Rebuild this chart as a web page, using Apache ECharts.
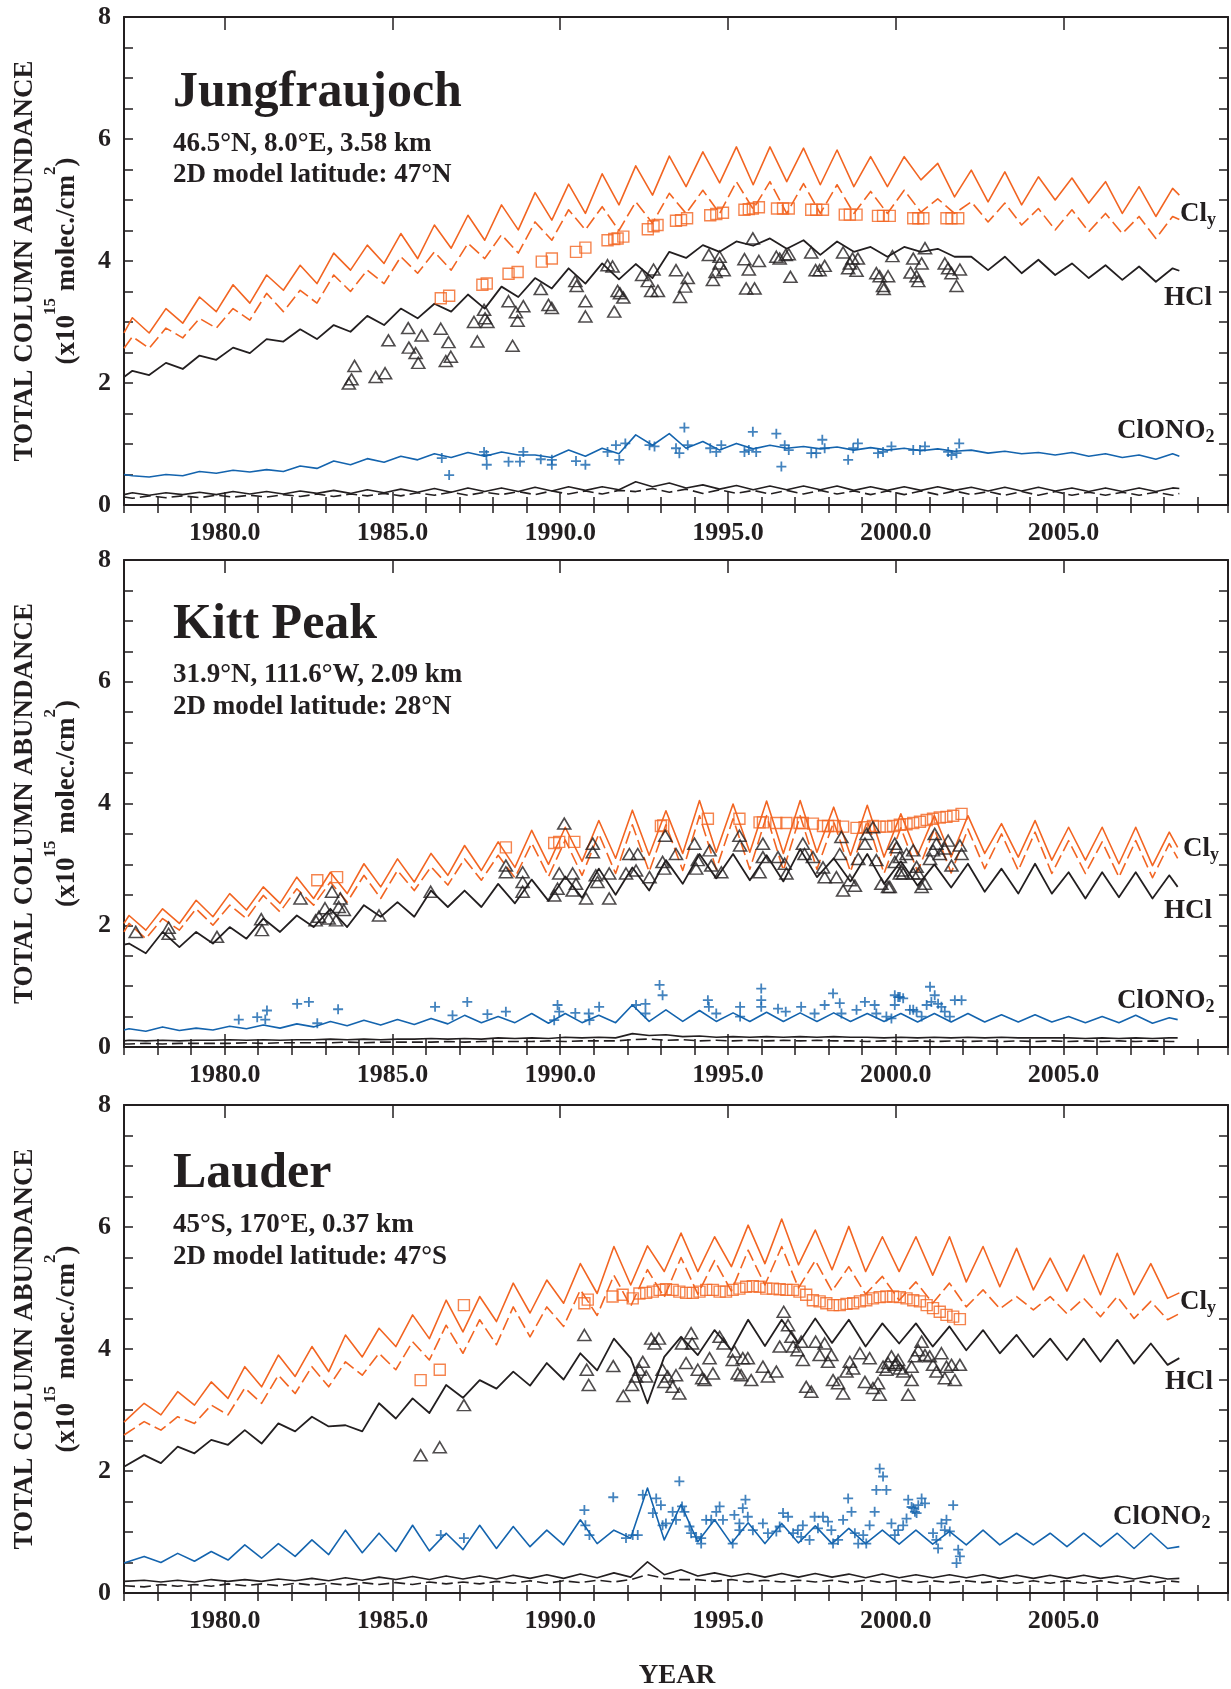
<!DOCTYPE html>
<html>
<head>
<meta charset="utf-8">
<script src="https://cdn.jsdelivr.net/npm/echarts@6/dist/echarts.min.js"></script>
<style>
  html, body { margin: 0; padding: 0; background: #ffffff; }
  #chart { width: 1231px; height: 1689px; }
</style>
</head>
<body>
<div id="chart"></div>
<script>
// ---------------------------------------------------------------------------
// Model curves are stored at their seasonal extremes: the first value is at
// 1977.0, then alternating maximum / minimum every half year, then the last
// model month.
// ---------------------------------------------------------------------------
function seasonalTimes(start, first, count, end) {
  const t = [start];
  for (let i = 0; i < count; i++) t.push(+(first + 0.5 * i).toFixed(2));
  t.push(end);
  return t;
}
const JF_T = seasonalTimes(1977.0, 1977.25, 63, 2008.45);
const KP_T = seasonalTimes(1977.0, 1977.15, 63, 2008.40);
const LA_T = seasonalTimes(1977.0, 1977.60, 62, 2008.45);

// ---- Jungfraujoch model (x10^15 molec./cm^2) ----
const JF_CLY = [2.82,
  3.07,2.82, 3.22,2.98, 3.41,3.17, 3.61,3.31, 3.77,3.52, 3.93,3.63, 4.13,3.85, 4.26,3.96, 4.45,4.04, 4.59,4.21,
  4.75,4.34, 4.92,4.51, 5.12,4.67, 5.26,4.78, 5.43,4.92, 5.56,5.08, 5.72,5.22, 5.79,5.28, 5.87,5.25, 5.87,5.30,
  5.85,5.25, 5.82,5.22, 5.71,5.22, 5.71,5.33, 5.60,5.05, 5.49,4.97, 5.46,4.92, 5.38,5.00, 5.36,4.95, 5.30,4.78,
  5.22,4.73,
  5.19, 5.08];
const JF_CLY_DASH = [2.57,
  2.76,2.57, 2.90,2.74, 3.06,2.90, 3.22,3.03, 3.47,3.17, 3.52,3.31, 3.77,3.50, 3.85,3.63, 4.07,3.80, 4.15,3.85,
  4.29,4.04, 4.43,4.13, 4.64,4.34, 4.84,4.51, 4.89,4.50, 4.97,4.62, 5.11,4.78, 5.16,4.78, 5.30,4.85, 5.30,4.78,
  5.27,4.78, 5.25,4.78, 5.14,4.78, 5.16,4.80, 5.02,4.78, 4.97,4.64, 4.95,4.59, 4.86,4.51, 4.84,4.48, 4.78,4.45,
  4.73,4.37,
  4.73, 4.68];
const JF_HCL = [2.10,
  2.20,2.13, 2.33,2.23, 2.45,2.38, 2.58,2.49, 2.72,2.68, 2.88,2.72, 2.95,2.84, 3.10,2.95, 3.22,3.06, 3.30,3.17,
  3.45,3.22, 3.58,3.41, 3.72,3.55, 3.88,3.63, 3.96,3.70, 3.95,3.72, 4.15,4.05, 4.26,4.15, 4.32,4.25, 4.37,4.20,
  4.34,4.10, 4.32,4.15, 4.23,4.07, 4.23,4.15, 4.20,4.07, 4.07,3.85, 4.07,3.80, 4.02,3.77, 3.96,3.72, 3.93,3.69,
  3.91,3.66,
  3.88, 3.84];
const JF_CLONO2 = [0.50,
  0.48,0.46, 0.50,0.48, 0.55,0.52, 0.57,0.54, 0.58,0.55, 0.64,0.60, 0.72,0.66, 0.76,0.70, 0.80,0.74, 0.84,0.78,
  0.86,0.80, 0.87,0.82, 0.82,0.78, 0.90,0.80, 0.93,0.84, 1.15,0.98, 1.17,0.93, 1.04,0.90, 1.01,0.92, 0.98,0.93,
  0.96,0.92, 0.95,0.90, 0.94,0.90, 0.93,0.89, 0.92,0.88, 0.90,0.85, 0.88,0.84, 0.86,0.82, 0.86,0.80, 0.84,0.78,
  0.82,0.75,
  0.84, 0.80];
const JF_LOW = [0.17,
  0.20,0.16, 0.20,0.17, 0.21,0.17, 0.22,0.18, 0.22,0.18, 0.23,0.19, 0.24,0.19, 0.25,0.20, 0.26,0.21, 0.27,0.21,
  0.28,0.22, 0.28,0.22, 0.29,0.23, 0.30,0.24, 0.30,0.25, 0.38,0.30, 0.36,0.28, 0.33,0.26, 0.32,0.25, 0.31,0.25,
  0.31,0.25, 0.31,0.24, 0.30,0.24, 0.30,0.24, 0.30,0.24, 0.29,0.23, 0.29,0.23, 0.29,0.23, 0.28,0.22, 0.28,0.22,
  0.28,0.22,
  0.28, 0.27];
const JF_LOW_DASH = [0.13,
  0.11,0.15, 0.12,0.15, 0.12,0.16, 0.13,0.16, 0.13,0.17, 0.14,0.18, 0.14,0.18, 0.15,0.19, 0.15,0.20, 0.16,0.21,
  0.16,0.21, 0.17,0.22, 0.17,0.23, 0.18,0.23, 0.18,0.24, 0.22,0.27, 0.21,0.26, 0.19,0.25, 0.19,0.24, 0.18,0.24,
  0.18,0.24, 0.18,0.23, 0.17,0.23, 0.17,0.23, 0.17,0.23, 0.17,0.22, 0.16,0.22, 0.16,0.22, 0.16,0.21, 0.16,0.21,
  0.16,0.21,
  0.16, 0.19];

// ---- Jungfraujoch observations [year, column] ----
const JF_OBS_CLY = [[1986.44,3.39],[1986.69,3.43],[1987.68,3.61],[1987.81,3.63],[1988.46,3.79],[1988.73,3.82],[1989.45,3.99],[1989.75,4.04],[1990.47,4.15],[1990.75,4.22],[1991.41,4.34],[1991.61,4.36],[1991.71,4.37],[1991.88,4.40],[1992.61,4.52],[1992.78,4.57],[1992.90,4.59],[1993.45,4.66],[1993.60,4.67],[1993.78,4.70],[1994.47,4.75],[1994.65,4.77],[1994.85,4.79],[1995.49,4.84],[1995.62,4.85],[1995.74,4.86],[1995.92,4.88],[1996.46,4.86],[1996.64,4.86],[1996.81,4.86],[1997.48,4.84],[1997.63,4.84],[1997.83,4.84],[1998.48,4.76],[1998.63,4.76],[1998.83,4.76],[1999.47,4.74],[1999.62,4.74],[1999.82,4.74],[2000.52,4.70],[2000.67,4.70],[2000.82,4.70],[2001.51,4.70],[2001.66,4.70],[2001.86,4.70]];
const JF_OBS_HCL = [[1983.70,1.99],[1983.78,2.06],[1983.87,2.28],[1984.50,2.10],[1984.78,2.16],[1984.88,2.70],[1985.47,2.90],[1985.49,2.58],[1985.69,2.49],[1985.77,2.33],[1985.87,2.78],[1986.44,2.89],[1986.59,2.36],[1986.67,2.67],[1986.74,2.43],[1987.43,3.00],[1987.53,2.68],[1987.73,3.20],[1987.76,3.06],[1987.83,3.00],[1988.46,3.34],[1988.58,2.61],[1988.68,3.16],[1988.73,3.02],[1988.90,3.26],[1989.42,3.54],[1989.65,3.28],[1989.75,3.23],[1990.45,3.67],[1990.49,3.59],[1990.75,3.34],[1990.75,3.09],[1991.41,3.93],[1991.56,3.91],[1991.61,3.17],[1991.71,3.51],[1991.78,3.47],[1991.88,3.40],[1992.44,3.77],[1992.61,3.67],[1992.71,3.51],[1992.78,3.86],[1992.91,3.51],[1993.45,3.85],[1993.57,3.41],[1993.72,3.58],[1993.80,3.72],[1994.43,4.10],[1994.55,3.69],[1994.63,3.82],[1994.75,4.07],[1994.75,3.96],[1994.87,3.85],[1995.49,4.03],[1995.54,3.55],[1995.62,3.86],[1995.74,4.37],[1995.79,3.55],[1995.92,4.00],[1996.44,4.07],[1996.54,4.04],[1996.72,4.10],[1996.81,4.11],[1996.86,3.74],[1997.48,4.14],[1997.61,3.85],[1997.73,3.85],[1997.88,3.92],[1998.43,4.14],[1998.58,3.88],[1998.63,3.96],[1998.71,4.04],[1998.83,3.84],[1998.87,4.04],[1999.42,3.80],[1999.52,3.75],[1999.62,3.59],[1999.64,3.54],[1999.77,3.75],[1999.90,4.08],[2000.44,3.81],[2000.52,4.04],[2000.62,3.75],[2000.67,3.67],[2000.77,3.96],[2000.87,4.21],[2001.46,3.96],[2001.56,3.88],[2001.66,3.80],[2001.81,3.59],[2001.91,3.86]];
const JF_OBS_CLONO2 = [[1986.47,0.77],[1986.69,0.49],[1987.73,0.87],[1987.80,0.82],[1987.81,0.66],[1988.46,0.71],[1988.80,0.71],[1988.90,0.87],[1989.42,0.75],[1989.75,0.74],[1989.75,0.66],[1990.47,0.72],[1990.75,0.66],[1991.41,0.87],[1991.66,0.98],[1991.76,0.74],[1991.94,1.01],[1992.66,0.98],[1992.81,0.96],[1993.45,0.93],[1993.55,0.85],[1993.70,1.27],[1993.80,0.98],[1994.47,0.93],[1994.65,0.87],[1994.80,0.98],[1995.49,0.87],[1995.62,0.90],[1995.74,1.20],[1995.84,0.87],[1996.44,1.17],[1996.59,0.63],[1996.69,0.98],[1996.81,0.90],[1997.48,0.85],[1997.63,0.85],[1997.81,1.07],[1997.88,0.93],[1998.58,0.74],[1998.73,0.93],[1998.87,1.01],[1999.47,0.85],[1999.62,0.87],[1999.87,0.96],[2000.52,0.90],[2000.72,0.90],[2000.87,0.96],[2001.56,0.87],[2001.66,0.82],[2001.81,0.85],[2001.89,1.01]];

// ---- Kitt Peak model ----
const KP_CLY = [2.03,
  2.16,1.92, 2.27,2.03, 2.41,2.14, 2.52,2.25, 2.63,2.36, 2.79,2.44, 2.87,2.52, 3.01,2.63, 3.09,2.71, 3.18,2.82,
  3.31,2.90, 3.37,2.95, 3.56,3.00, 3.61,3.05, 3.72,3.10, 3.89,3.15, 3.88,3.18, 4.05,3.20, 3.99,3.20, 4.04,3.18,
  4.05,3.20, 3.94,3.15, 3.97,3.12, 3.83,3.15, 3.80,3.12, 3.80,3.18, 3.67,3.12, 3.72,3.07, 3.61,3.07, 3.61,3.01,
  3.61,2.98,
  3.53, 3.28];
const KP_CLY_DASH = [1.89,
  2.03,1.78, 2.11,1.92, 2.27,2.00, 2.33,2.11, 2.49,2.22, 2.60,2.33, 2.71,2.38, 2.82,2.44, 2.90,2.57, 2.96,2.66,
  3.09,2.74, 3.15,2.78, 3.35,2.80, 3.40,2.82, 3.50,2.85, 3.65,2.88, 3.65,2.90, 3.80,2.92, 3.75,2.92, 3.80,2.90,
  3.80,2.92, 3.70,2.88, 3.72,2.85, 3.60,2.88, 3.58,2.86, 3.58,2.93, 3.50,2.90, 3.53,2.85, 3.39,2.85, 3.37,2.79,
  3.39,2.78,
  3.34, 3.10];
const KP_HCL = [1.68,
  1.70,1.54, 1.89,1.64, 1.89,1.70, 1.97,1.78, 2.11,1.89, 2.16,1.97, 2.27,1.97, 2.33,2.14, 2.38,2.14, 2.57,2.30,
  2.57,2.30, 2.68,2.36, 2.75,2.40, 2.80,2.45, 2.93,2.50, 2.95,2.57, 3.07,2.68, 3.17,2.77, 3.17,2.74, 3.15,2.72,
  3.25,2.79, 3.10,2.72, 3.17,2.68, 3.05,2.65, 3.00,2.62, 3.01,2.55, 2.93,2.52, 3.01,2.52, 2.87,2.44, 2.87,2.46,
  2.87,2.44,
  2.82, 2.63];
const KP_CLONO2 = [0.28,
  0.30,0.26, 0.33,0.27, 0.31,0.28, 0.34,0.30, 0.36,0.31, 0.38,0.33, 0.42,0.35, 0.44,0.36, 0.45,0.37, 0.47,0.38,
  0.52,0.40, 0.50,0.40, 0.55,0.39, 0.55,0.40, 0.52,0.40, 0.69,0.42, 0.61,0.42, 0.60,0.42, 0.56,0.42, 0.57,0.42,
  0.56,0.42, 0.56,0.42, 0.55,0.42, 0.55,0.41, 0.55,0.41, 0.55,0.41, 0.53,0.41, 0.53,0.41, 0.50,0.40, 0.50,0.40,
  0.52,0.39,
  0.48, 0.45];
const KP_LOW = [0.10,
  0.11,0.10, 0.11,0.10, 0.11,0.11, 0.12,0.11, 0.12,0.11, 0.12,0.12, 0.13,0.12, 0.13,0.12, 0.13,0.13, 0.14,0.13,
  0.14,0.13, 0.15,0.14, 0.15,0.14, 0.16,0.15, 0.16,0.15, 0.22,0.19, 0.20,0.17, 0.18,0.16, 0.17,0.16, 0.17,0.16,
  0.17,0.16, 0.17,0.16, 0.16,0.15, 0.16,0.15, 0.16,0.15, 0.16,0.15, 0.16,0.15, 0.15,0.15, 0.15,0.14, 0.15,0.14,
  0.15,0.14,
  0.15, 0.15];
const KP_LOW_DASH = [0.05,
  0.05,0.06, 0.05,0.06, 0.06,0.06, 0.06,0.07, 0.06,0.07, 0.07,0.07, 0.07,0.08, 0.07,0.08, 0.08,0.08, 0.08,0.09,
  0.08,0.09, 0.09,0.09, 0.09,0.10, 0.09,0.10, 0.10,0.10, 0.12,0.13, 0.11,0.12, 0.10,0.11, 0.10,0.11, 0.10,0.11,
  0.10,0.11, 0.10,0.10, 0.09,0.10, 0.09,0.10, 0.09,0.10, 0.09,0.10, 0.09,0.10, 0.09,0.10, 0.09,0.10, 0.09,0.10,
  0.09,0.10,
  0.09, 0.09];

// ---- Kitt Peak observations ----
const KP_OBS_CLY = [[1982.76,2.74],[1983.35,2.79],[1988.38,3.28],[1989.82,3.35],[1989.97,3.37],[1990.42,3.37],[1993.00,3.63],[1993.07,3.64],[1994.40,3.75],[1995.34,3.75],[1995.94,3.69],[1996.04,3.69],[1996.44,3.68],[1996.74,3.68],[1997.13,3.68],[1997.23,3.68],[1997.53,3.67],[1997.83,3.63],[1997.98,3.63],[1998.18,3.63],[1998.43,3.62],[1998.83,3.60],[1999.07,3.61],[1999.32,3.63],[1999.52,3.62],[1999.72,3.62],[1999.92,3.63],[2000.12,3.65],[2000.32,3.66],[2000.52,3.68],[2000.72,3.70],[2000.92,3.73],[2001.11,3.75],[2001.31,3.77],[2001.51,3.78],[2001.71,3.80],[2001.96,3.83]];
const KP_OBS_HCL = [[1977.35,1.89],[1978.33,1.86],[1978.33,1.96],[1979.77,1.81],[1981.09,2.10],[1981.11,1.92],[1982.26,2.44],[1982.71,2.08],[1982.81,2.14],[1982.99,2.28],[1983.10,2.11],[1983.20,2.55],[1983.32,2.08],[1983.40,2.30],[1983.45,2.44],[1983.55,2.25],[1984.60,2.16],[1986.14,2.55],[1988.38,2.98],[1988.38,2.87],[1988.88,2.87],[1988.88,2.71],[1988.88,2.55],[1989.82,2.49],[1989.92,2.60],[1989.97,2.85],[1990.12,3.67],[1990.37,2.85],[1990.37,2.57],[1990.47,2.68],[1990.77,2.44],[1990.97,3.34],[1990.97,3.20],[1991.06,2.82],[1991.11,2.71],[1991.46,2.85],[1991.46,2.44],[1991.96,2.85],[1992.06,3.17],[1992.26,2.90],[1992.31,3.17],[1992.66,2.79],[1993.05,3.04],[1993.10,2.93],[1993.13,3.47],[1993.45,3.17],[1994.00,3.34],[1994.05,2.93],[1994.10,3.07],[1994.45,3.23],[1994.50,2.98],[1994.80,2.87],[1995.34,3.47],[1995.36,3.31],[1995.94,2.87],[1996.04,3.34],[1996.04,3.12],[1996.49,3.12],[1996.69,3.01],[1996.74,2.85],[1997.23,3.34],[1997.28,3.17],[1997.53,3.12],[1997.83,2.95],[1997.88,2.79],[1998.23,2.79],[1998.33,3.17],[1998.38,3.45],[1998.43,2.57],[1998.63,2.74],[1998.78,2.65],[1998.88,3.09],[1999.08,3.34],[1999.13,3.50],[1999.32,3.61],[1999.42,3.07],[1999.57,2.68],[1999.77,2.63],[1999.82,2.63],[1999.97,3.34],[1999.97,3.04],[2000.02,3.28],[2000.12,3.12],[2000.12,2.85],[2000.17,2.90],[2000.22,2.85],[2000.32,3.17],[2000.52,2.85],[2000.52,3.23],[2000.62,2.96],[2000.67,2.85],[2000.77,2.63],[2000.87,2.68],[2001.02,3.09],[2001.11,3.23],[2001.16,3.50],[2001.21,3.34],[2001.31,3.17],[2001.46,3.26],[2001.56,3.39],[2001.66,2.98],[2001.91,3.31],[2001.96,3.17]];
const KP_OBS_CLONO2 = [[1980.42,0.45],[1980.97,0.49],[1981.21,0.45],[1981.26,0.60],[1982.16,0.71],[1982.51,0.74],[1982.76,0.39],[1983.38,0.62],[1986.27,0.66],[1986.79,0.52],[1987.23,0.74],[1987.83,0.54],[1988.38,0.58],[1989.82,0.44],[1989.92,0.69],[1989.97,0.58],[1990.45,0.56],[1990.85,0.55],[1990.87,0.44],[1991.16,0.66],[1992.26,0.69],[1992.54,0.71],[1992.54,0.55],[1992.96,1.02],[1993.05,0.85],[1994.40,0.77],[1994.43,0.66],[1994.65,0.55],[1995.36,0.66],[1995.36,0.50],[1995.99,0.96],[1995.99,0.77],[1995.99,0.66],[1996.49,0.63],[1996.72,0.58],[1997.18,0.66],[1997.58,0.55],[1997.88,0.69],[1998.13,0.88],[1998.33,0.72],[1998.38,0.55],[1998.83,0.61],[1999.08,0.74],[1999.37,0.69],[1999.42,0.55],[1999.72,0.50],[1999.87,0.47],[1999.97,0.85],[1999.97,0.69],[2000.07,0.82],[2000.12,0.82],[2000.22,0.80],[2000.42,0.61],[2000.52,0.61],[2000.62,0.58],[2000.77,0.50],[2000.92,0.69],[2001.02,0.99],[2001.06,0.74],[2001.16,0.85],[2001.26,0.71],[2001.36,0.66],[2001.46,0.58],[2001.61,0.50],[2001.76,0.77],[2001.96,0.77]];

// ---- Lauder model (maxima in southern spring) ----
const LA_CLY = [2.80,
  3.11,2.92, 3.30,3.08, 3.46,3.19, 3.71,3.38, 3.90,3.55, 4.04,3.63, 4.23,3.87, 4.34,4.04, 4.56,4.17, 4.80,4.28,
  4.86,4.45, 5.08,4.59, 5.13,4.75, 5.40,4.91, 5.68,5.05, 5.69,5.27, 5.90,5.27, 5.84,5.35, 6.03,5.40, 6.13,5.38,
  5.95,5.30, 6.01,5.27, 5.84,5.27, 5.84,5.21, 5.84,5.10, 5.68,5.02, 5.65,4.97, 5.49,4.95, 5.54,4.89, 5.57,4.89,
  5.40,4.83,
  4.92];
const LA_CLY_DASH = [2.59,
  2.81,2.67, 2.89,2.78, 3.08,2.92, 3.36,3.11, 3.57,3.27, 3.71,3.38, 3.79,3.57, 3.93,3.66, 4.12,3.82, 4.39,3.93,
  4.48,4.07, 4.69,4.20, 4.69,4.37, 4.97,4.55, 5.21,4.70, 5.30,4.85, 5.50,4.90, 5.45,4.95, 5.62,5.05, 5.68,5.00,
  5.45,4.95, 5.35,4.90, 5.19,4.80, 5.10,4.75, 5.08,4.69, 4.97,4.66, 4.86,4.64, 4.86,4.58, 4.83,4.53, 4.86,4.50,
  4.78,4.48,
  4.58];
const LA_HCL = [2.07,
  2.26,2.13, 2.40,2.29, 2.51,2.43, 2.67,2.45, 2.78,2.65, 2.89,2.73, 2.75,2.65, 3.11,2.86, 3.19,2.95, 3.41,3.20,
  3.49,3.35, 3.63,3.40, 3.77,3.50, 3.93,3.65, 4.17,3.85, 3.11,3.87, 4.20,3.90, 4.31,3.98, 4.48,4.05, 4.48,4.09,
  4.50,4.10, 4.48,4.04, 4.42,4.09, 4.42,4.04, 4.37,3.98, 4.31,3.93, 4.23,3.87, 4.17,3.82, 4.17,3.79, 4.15,3.76,
  4.09,3.74,
  3.85];
const LA_CLONO2 = [0.49,
  0.60,0.50, 0.65,0.52, 0.68,0.54, 0.79,0.57, 0.81,0.60, 0.87,0.63, 1.03,0.66, 0.98,0.68, 1.11,0.69, 0.98,0.71,
  1.11,0.73, 1.09,0.76, 1.03,0.79, 1.20,0.81, 1.03,0.90, 1.72,0.87, 1.45,0.84, 1.20,0.81, 1.15,0.81, 1.14,0.82,
  1.10,0.81, 1.06,0.81, 1.03,0.80, 1.03,0.80, 1.01,0.79, 1.03,0.79, 0.98,0.79, 0.98,0.76, 0.98,0.76, 0.98,0.73,
  0.98,0.73,
  0.76];
const LA_LOW = [0.19,
  0.21,0.18, 0.21,0.18, 0.22,0.19, 0.22,0.19, 0.23,0.20, 0.24,0.20, 0.25,0.21, 0.26,0.22, 0.27,0.22, 0.28,0.23,
  0.28,0.23, 0.29,0.24, 0.30,0.24, 0.31,0.25, 0.33,0.26, 0.51,0.30, 0.38,0.28, 0.33,0.27, 0.32,0.26, 0.32,0.26,
  0.32,0.26, 0.31,0.25, 0.31,0.25, 0.30,0.25, 0.30,0.25, 0.30,0.24, 0.29,0.24, 0.29,0.24, 0.29,0.24, 0.28,0.23,
  0.28,0.23,
  0.24];
const LA_LOW_DASH = [0.12,
  0.10,0.14, 0.11,0.14, 0.11,0.15, 0.12,0.15, 0.12,0.16, 0.13,0.16, 0.13,0.17, 0.14,0.17, 0.14,0.18, 0.15,0.18,
  0.15,0.19, 0.16,0.20, 0.16,0.20, 0.17,0.21, 0.18,0.22, 0.30,0.24, 0.22,0.22, 0.19,0.22, 0.18,0.21, 0.18,0.21,
  0.18,0.21, 0.17,0.21, 0.17,0.21, 0.17,0.20, 0.17,0.20, 0.17,0.20, 0.16,0.20, 0.16,0.20, 0.16,0.20, 0.16,0.20,
  0.16,0.20,
  0.18];

// ---- Lauder observations ----
const LA_OBS_CLY = [[1985.84,3.49],[1986.41,3.66],[1987.13,4.72],[1990.72,4.75],[1990.82,4.81],[1991.56,4.86],[1991.86,4.89],[1992.16,4.83],[1992.36,4.91],[1992.56,4.92],[1992.76,4.94],[1992.96,4.97],[1993.15,4.98],[1993.35,4.97],[1993.55,4.94],[1993.75,4.92],[1993.95,4.92],[1994.15,4.94],[1994.35,4.97],[1994.55,4.97],[1994.75,4.94],[1994.94,4.94],[1995.14,4.97],[1995.34,4.99],[1995.54,5.02],[1995.74,5.03],[1995.94,5.02],[1996.14,4.99],[1996.34,4.99],[1996.54,4.98],[1996.74,4.97],[1996.94,4.97],[1997.13,4.94],[1997.33,4.89],[1997.53,4.80],[1997.73,4.78],[1997.93,4.75],[1998.13,4.72],[1998.33,4.72],[1998.53,4.74],[1998.73,4.75],[1998.93,4.78],[1999.12,4.80],[1999.32,4.83],[1999.52,4.85],[1999.72,4.86],[1999.92,4.86],[2000.12,4.85],[2000.32,4.83],[2000.52,4.80],[2000.72,4.78],[2000.92,4.72],[2001.11,4.67],[2001.31,4.61],[2001.51,4.56],[2001.71,4.53],[2001.91,4.49]];
const LA_OBS_HCL = [[1985.84,2.26],[1986.41,2.39],[1987.13,3.08],[1990.72,4.23],[1990.79,3.66],[1990.85,3.41],[1991.58,3.72],[1991.88,3.23],[1992.14,3.41],[1992.26,3.55],[1992.36,3.66],[1992.46,3.79],[1992.56,3.55],[1992.71,4.17],[1992.81,4.09],[1992.94,4.17],[1993.05,3.66],[1993.10,3.46],[1993.20,3.55],[1993.35,3.38],[1993.45,3.57],[1993.55,3.27],[1993.63,4.09],[1993.75,3.77],[1993.90,4.26],[1993.93,4.09],[1994.10,3.66],[1994.23,3.52],[1994.30,3.49],[1994.45,3.85],[1994.55,3.60],[1994.75,4.20],[1994.87,4.09],[1995.14,3.82],[1995.19,3.96],[1995.29,3.60],[1995.39,3.57],[1995.44,3.85],[1995.59,3.85],[1995.69,3.49],[1996.04,3.71],[1996.19,3.55],[1996.44,3.63],[1996.54,4.04],[1996.66,4.61],[1996.79,4.39],[1996.89,4.20],[1996.94,4.04],[1997.07,3.98],[1997.18,4.12],[1997.23,3.82],[1997.33,3.38],[1997.48,3.30],[1997.61,4.12],[1997.73,3.90],[1997.88,4.09],[1997.98,3.79],[1998.08,3.90],[1998.13,3.49],[1998.28,3.44],[1998.43,3.27],[1998.53,3.63],[1998.63,3.79],[1998.73,3.68],[1998.93,3.93],[1999.08,3.46],[1999.22,3.85],[1999.32,3.36],[1999.47,3.44],[1999.52,3.25],[1999.62,3.71],[1999.72,3.66],[1999.77,3.77],[1999.87,3.88],[1999.97,3.74],[2000.02,3.77],[2000.07,3.82],[2000.12,3.68],[2000.22,3.63],[2000.37,3.25],[2000.47,3.49],[2000.47,3.71],[2000.57,3.88],[2000.67,3.98],[2000.77,4.12],[2000.87,3.90],[2001.01,3.88],[2001.11,3.74],[2001.21,3.63],[2001.36,3.93],[2001.46,3.52],[2001.51,3.71],[2001.66,3.74],[2001.76,3.49],[2001.91,3.74]];
const LA_OBS_CLONO2 = [[1986.44,0.95],[1987.13,0.90],[1990.72,1.36],[1990.75,1.11],[1990.87,0.95],[1991.58,1.57],[1991.96,0.90],[1992.16,0.95],[1992.31,0.95],[1992.46,1.61],[1992.76,1.31],[1992.86,1.55],[1993.00,1.44],[1993.05,1.11],[1993.15,1.14],[1993.35,1.33],[1993.45,1.20],[1993.55,1.83],[1993.63,1.42],[1993.70,1.33],[1993.85,1.09],[1993.90,0.98],[1994.05,0.92],[1994.20,0.90],[1994.20,0.81],[1994.35,1.20],[1994.50,1.20],[1994.65,1.33],[1994.75,1.42],[1994.85,1.20],[1995.14,0.81],[1995.19,1.28],[1995.34,1.14],[1995.34,1.03],[1995.44,1.39],[1995.52,1.53],[1995.59,1.25],[1995.74,1.03],[1996.04,1.14],[1996.19,0.98],[1996.44,1.01],[1996.54,1.09],[1996.64,1.31],[1996.79,1.25],[1996.94,0.98],[1997.08,1.03],[1997.18,0.92],[1997.23,1.11],[1997.43,0.87],[1997.58,1.25],[1997.68,1.06],[1997.83,1.25],[1997.98,1.17],[1998.08,1.03],[1998.13,0.81],[1998.28,0.87],[1998.43,1.20],[1998.58,1.55],[1998.68,1.33],[1998.78,0.98],[1998.88,0.81],[1999.03,0.95],[1999.12,0.81],[1999.22,1.11],[1999.37,1.33],[1999.42,1.69],[1999.52,2.04],[1999.62,1.91],[1999.72,1.69],[1999.87,1.14],[1999.97,0.95],[2000.07,1.03],[2000.22,1.11],[2000.32,1.22],[2000.37,1.53],[2000.47,1.41],[2000.52,1.39],[2000.57,1.33],[2000.62,1.31],[2000.67,1.44],[2000.77,1.55],[2000.87,1.47],[2001.11,0.98],[2001.21,0.87],[2001.26,0.73],[2001.36,1.14],[2001.46,1.03],[2001.51,1.20],[2001.61,1.01],[2001.71,1.44],[2001.81,0.49],[2001.86,0.71],[2001.91,0.60]];

// ---- axis ticks and labels ----
const YEAR_LABELS = [1980, 1985, 1990, 1995, 2000, 2005];
const COLUMN_TICKS = [0.5, 1, 1.5, 2, 2.5, 3, 3.5, 4, 4.5, 5, 5.5, 6, 6.5, 7, 7.5];

// ---- station texts ----
const STATION_NAMES = ['Jungfraujoch', 'Kitt Peak', 'Lauder'];
const STATION_SITES = ['46.5°N, 8.0°E, 3.58 km', '31.9°N, 111.6°W, 2.09 km', '45°S, 170°E, 0.37 km'];
const STATION_MODELS = ['2D model latitude: 47°N', '2D model latitude: 28°N', '2D model latitude: 47°S'];

// ---------------------------------------------------------------------------
const STATIONS = [
  { t: JF_T, cly: JF_CLY, clyDash: JF_CLY_DASH, hcl: JF_HCL, clono2: JF_CLONO2, low: JF_LOW, lowDash: JF_LOW_DASH,
    obsCly: JF_OBS_CLY, obsHcl: JF_OBS_HCL, obsClono2: JF_OBS_CLONO2 },
  { t: KP_T, cly: KP_CLY, clyDash: KP_CLY_DASH, hcl: KP_HCL, clono2: KP_CLONO2, low: KP_LOW, lowDash: KP_LOW_DASH,
    obsCly: KP_OBS_CLY, obsHcl: KP_OBS_HCL, obsClono2: KP_OBS_CLONO2 },
  { t: LA_T, cly: LA_CLY, clyDash: LA_CLY_DASH, hcl: LA_HCL, clono2: LA_CLONO2, low: LA_LOW, lowDash: LA_LOW_DASH,
    obsCly: LA_OBS_CLY, obsHcl: LA_OBS_HCL, obsClono2: LA_OBS_CLONO2 }
];

const ORANGE = '#f26522';
const BLUE = '#1464ae';
const INK = '#231f20';
const SERIF = '"Liberation Serif", "Times New Roman", serif';
const font = (size) => 'bold ' + size + 'px ' + SERIF;

// panel frames
const PANELS = [
  { top: 17, height: 488, title: 93, site: 144, model: 175, cly: [1180, 214], hcl: [1212, 298], clono2: [1117, 431] },
  { top: 560, height: 487, title: 625, site: 675, model: 707, cly: [1183, 849], hcl: [1212, 911], clono2: [1117, 1001] },
  { top: 1105, height: 488, title: 1174, site: 1225, model: 1257, cly: [1180, 1302], hcl: [1213, 1382], clono2: [1113, 1517] }
];
const LEFT = 124, WIDTH = 1104;
const X_MIN = 1977, X_MAX = 2009.9;

const grids = [], xAxes = [], yAxes = [], series = [], graphics = [];

function xAxisPair(i, position) {
  const major = {
    gridIndex: i, type: 'value', min: X_MIN, max: X_MAX, position,
    axisLine: { show: true, onZero: false, lineStyle: { color: INK, width: 2 } },
    axisTick: { show: true, inside: true, length: 13, customValues: YEAR_LABELS, lineStyle: { color: INK, width: 1.5 } },
    axisLabel: position === 'bottom'
      ? { show: true, customValues: YEAR_LABELS, formatter: (v) => Number(v).toFixed(1), color: INK,
          fontFamily: SERIF, fontWeight: 'bold', fontSize: 26, margin: 15 }
      : { show: false },
    splitLine: { show: false }
  };
  const minor = {
    gridIndex: i, type: 'value', min: X_MIN, max: X_MAX, interval: 1, position,
    axisLine: { show: false },
    axisTick: { show: true, inside: true, length: 8, lineStyle: { color: INK, width: 1.5 } },
    axisLabel: { show: false },
    splitLine: { show: false }
  };
  return [major, minor];
}

function yAxis(i, position) {
  return {
    gridIndex: i, type: 'value', min: 0, max: 8, interval: 2, position,
    axisLine: { show: true, onZero: false, lineStyle: { color: INK, width: 2 } },
    axisTick: { show: true, inside: true, length: 9, customValues: COLUMN_TICKS, lineStyle: { color: INK, width: 1.5 } },
    axisLabel: position === 'left'
      ? { show: true, color: INK, fontFamily: SERIF, fontWeight: 'bold', fontSize: 26, margin: 13 }
      : { show: false },
    splitLine: { show: false }
  };
}

function curve(i, t, v, color, width, dash) {
  return {
    type: 'line', xAxisIndex: i * 4, yAxisIndex: i * 2,
    data: v.map((y, k) => [t[k], y]),
    symbol: 'none', showSymbol: false, silent: true, clip: true, z: 2,
    lineStyle: { color, width, type: dash || 'solid', join: 'round' }
  };
}

function markers(i, data, symbol, size, color, width) {
  return {
    type: 'scatter', xAxisIndex: i * 4, yAxisIndex: i * 2, data,
    symbol, symbolSize: size, silent: true, z: 4,
    itemStyle: { color: 'rgba(0,0,0,0)', borderColor: color, borderWidth: width }
  };
}

const PLUS = 'path://M5,0L5,10M0,5L10,5';

STATIONS.forEach((s, i) => {
  const p = PANELS[i];
  grids.push({ left: LEFT, top: p.top, width: WIDTH, height: p.height });
  xAxes.push(...xAxisPair(i, 'bottom'), ...xAxisPair(i, 'top'));
  yAxes.push(yAxis(i, 'left'), yAxis(i, 'right'));

  series.push(
    curve(i, s.t, s.low, INK, 1.6),
    curve(i, s.t, s.lowDash, INK, 1.6, [11, 5]),
    curve(i, s.t, s.clono2, BLUE, 1.6),
    curve(i, s.t, s.hcl, INK, 1.8),
    curve(i, s.t, s.clyDash, ORANGE, 1.6, [13, 5]),
    curve(i, s.t, s.cly, ORANGE, 1.6),
    markers(i, s.obsCly, 'rect', 11, ORANGE, 1.4),
    markers(i, s.obsHcl, 'triangle', [13, 11], INK, 1.6),
    markers(i, s.obsClono2, PLUS, 10, BLUE, 1.8)
  );

  // station name and description
  graphics.push(
    { type: 'text', x: 173, y: p.title, style: { text: STATION_NAMES[i], font: font(50), fill: INK, textAlign: 'left', textVerticalAlign: 'middle' } },
    { type: 'text', x: 173, y: p.site, style: { text: STATION_SITES[i], font: font(27), fill: INK, textAlign: 'left', textVerticalAlign: 'middle' } },
    { type: 'text', x: 173, y: p.model, style: { text: STATION_MODELS[i], font: font(27), fill: INK, textAlign: 'left', textVerticalAlign: 'middle' } }
  );

  // species labels at the right end of the curves
  const sub = { s: { font: font(18), verticalAlign: 'bottom', lineHeight: 12 } };
  graphics.push(
    { type: 'text', x: p.cly[0], y: p.cly[1], style: { text: 'Cl{s|y}', font: font(27), lineHeight: 30, rich: sub, fill: INK, textAlign: 'left', textVerticalAlign: 'middle' } },
    { type: 'text', x: p.hcl[0], y: p.hcl[1], style: { text: 'HCl', font: font(27), fill: INK, textAlign: 'right', textVerticalAlign: 'middle' } },
    { type: 'text', x: p.clono2[0], y: p.clono2[1], style: { text: 'ClONO{s|2}', font: font(27), lineHeight: 30, rich: sub, fill: INK, textAlign: 'left', textVerticalAlign: 'middle' } }
  );

  // vertical axis title
  const mid = p.top + p.height / 2;
  graphics.push(
    { type: 'text', x: 25, y: mid, rotation: Math.PI / 2,
      style: { text: 'TOTAL COLUMN ABUNDANCE', font: font(27), fill: INK, textAlign: 'center', textVerticalAlign: 'middle' } },
    { type: 'text', x: 67, y: mid, rotation: Math.PI / 2,
      style: { text: '(x10{sup|15} molec./cm{sup|2})', font: font(27), lineHeight: 50, fill: INK, textAlign: 'center', textVerticalAlign: 'middle',
               rich: { sup: { font: font(17), verticalAlign: 'top', lineHeight: 12 } } } }
  );
});

graphics.push({ type: 'text', x: 677, y: 1676,
  style: { text: 'YEAR', font: font(27), fill: INK, textAlign: 'center', textVerticalAlign: 'middle' } });

const chart = echarts.init(document.getElementById('chart'), null, { renderer: 'canvas' });
chart.setOption({
  backgroundColor: '#ffffff',
  animation: false,
  grid: grids,
  xAxis: xAxes,
  yAxis: yAxes,
  series,
  graphic: graphics
});
</script>
</body>
</html>
